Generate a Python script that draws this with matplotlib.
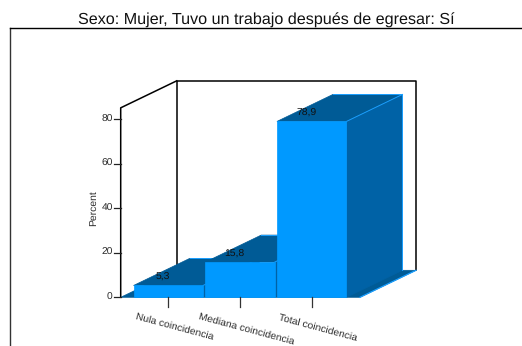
import matplotlib
matplotlib.use('Agg')
import matplotlib.pyplot as plt
import matplotlib.patches as patches

categories = ['Nula coincidencia', 'Mediana coincidencia', 'Total coincidencia']
values = [5.3, 15.8, 78.9]
value_labels = ['5,3', '15,8', '78,9']
y_ticks = [0, 20, 40, 60, 80]

W, H = 522, 346
# escala: pixeles por categoria / por punto de porcentaje
px_x = 71.7
px_y = 2.229
x0_px = 168.3
y0_px = 297.3
bar_w = 0.97
dx = 56 / px_x     # profundidad en unidades de categoria
dy = 27 / px_y     # profundidad en unidades de porcentaje
left = (120.7 - x0_px) / px_x
right_floor = (360 - x0_px) / px_x
y_top = 85

FRONT = '#0099ff'
TOP = '#005b96'
SIDE = '#0062a6'
EDGE = '#1a9fff'
TEXT = '#2a2a2a'

plt.rcParams['font.family'] = ['Liberation Sans', 'DejaVu Sans']
plt.rcParams['text.hinting'] = 'no_hinting'

fig = plt.figure(figsize=(W / 100, H / 100), dpi=100)
ax = fig.add_axes([0, 0, 1, 1])
ax.set_xlim((0 - x0_px) / px_x, (W - x0_px) / px_x)
ax.set_ylim((y0_px - H) / px_y, y0_px / px_y)
ax.axis('off')


def line(xs, ys, lw=1.0, color='black', z=2):
    ax.plot(xs, ys, color=color, lw=lw, solid_capstyle='projecting', zorder=z)


def poly(pts, fc, z=3):
    ax.add_patch(patches.Polygon(pts, closed=True, facecolor=fc,
                                 edgecolor=fc, linewidth=0.5, zorder=z))


# marco exterior, cortado por la derecha y por abajo
fx = (9.5 - x0_px) / px_x
fy = (y0_px - 27.5) / px_y
line([fx, fx], [(y0_px - H) / px_y, fy], lw=1.0, color='#333333')
line([fx, (W - x0_px) / px_x], [fy, fy], lw=1.0)

# paredes
line([left + dx, left + dx, right_floor + dx, right_floor + dx],
     [dy, y_top + dy, y_top + dy, dy], lw=1.1)
line([left, left, left + dx], [0, y_top, y_top + dy], lw=1.1)

# piso
poly([(left, 0), (right_floor, 0), (right_floor + dx, dy), (left + dx, dy)], TOP, z=2.2)
line([right_floor, right_floor + dx], [0, dy], lw=0.9, color=EDGE, z=2.5)

# barras de izquierda a derecha: cada una tapa el lado de la anterior
for i, v in enumerate(values):
    a = i - bar_w / 2
    b = i + bar_w / 2
    z = 3 + i
    poly([(b, 0), (b + dx, dy), (b + dx, v + dy), (b, v)], SIDE, z=z)
    poly([(a, v), (b, v), (b + dx, v + dy), (a + dx, v + dy)], TOP, z=z)
    line([b, b + dx], [v, v + dy], lw=0.7, color=EDGE, z=z + 0.1)
    line([a + dx, b + dx, b + dx], [v + dy, v + dy, dy], lw=0.7, color=EDGE, z=z + 0.1)
    poly([(a, 0), (b, 0), (b, v), (a, v)], FRONT, z=z + 0.2)
    ax.text(i - 5.5 / px_x, v + 8.3 / px_y, value_labels[i], fontsize=7.5,
            ha='center', va='center', color='#111111', zorder=10)

# eje y
for t in y_ticks:
    line([left - 7 / px_x, left], [t, t], lw=0.9, color='#222222', z=9)
    ax.text(left - 8 / px_x, t, str(t), fontsize=7.4, ha='right', va='center',
            color=TEXT)
ax.text((93.5 - x0_px) / px_x, 40, 'Percent', fontsize=7.5, rotation=90,
        ha='center', va='center', color=TEXT)

# eje x
label_dy = [29.5, 31.5, 30.2]
for i, c in enumerate(categories):
    line([i, i], [0, -10 / px_y], lw=0.9, color='#333333', z=9)
    ax.text(i + 6.5 / px_x, -label_dy[i] / px_y, c, fontsize=7.35, rotation=-15,
            rotation_mode='anchor', ha='center', va='center', color=TEXT)

fig.text(266 / W, 1 - 20 / H, 'Sexo: Mujer, Tuvo un trabajo después de egresar: Sí',
         fontsize=11.6, ha='center', va='center', color='#111111')

fig.savefig('out.png', dpi=100)
